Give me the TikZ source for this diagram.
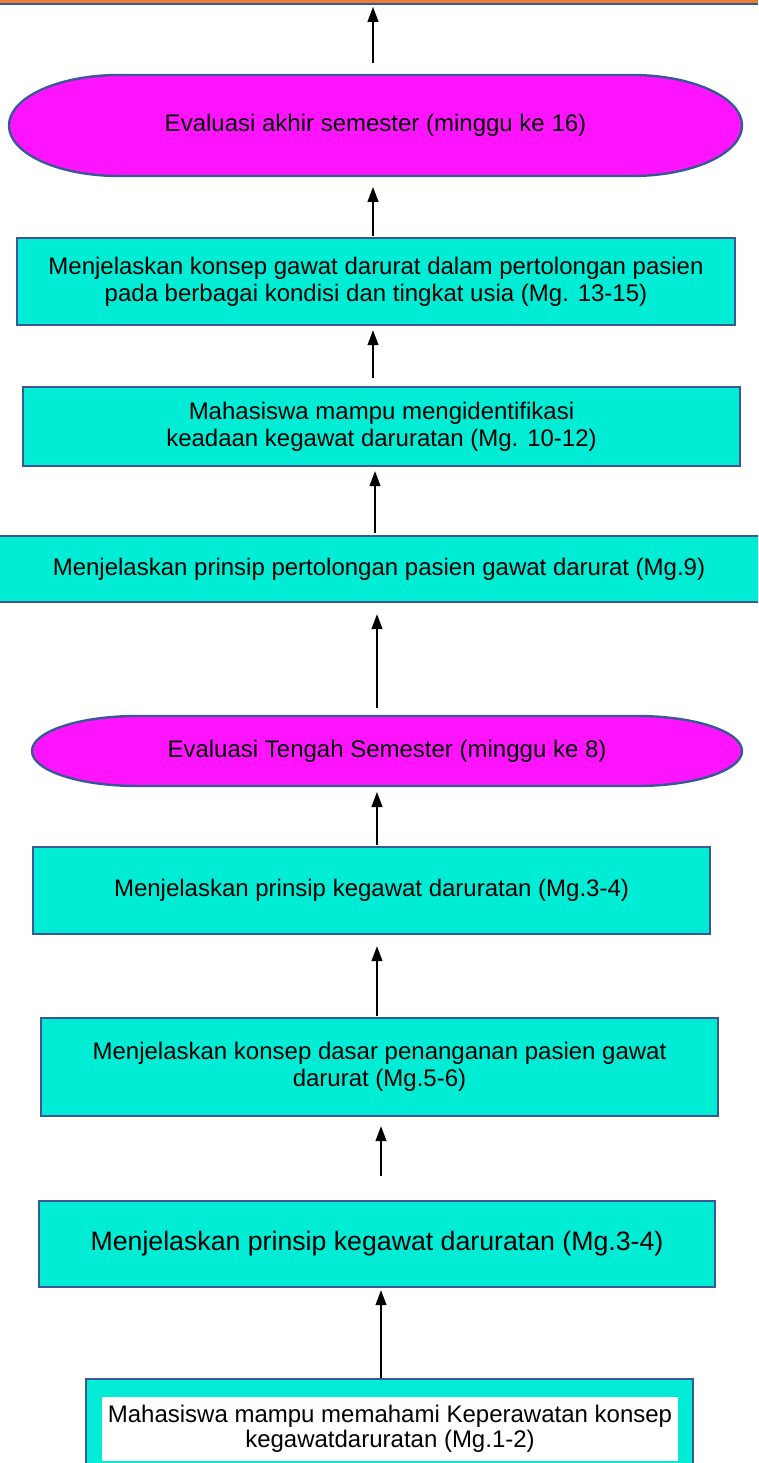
\documentclass[tikz,border=0pt]{standalone}
\usepackage{fontspec}
\setmainfont{Liberation Sans}
\usetikzlibrary{positioning, calc}
\usetikzlibrary{shapes.misc, arrows.meta, backgrounds}

\definecolor{boxfill}{RGB}{0,236,212}
\definecolor{boxline}{RGB}{58,88,148}
\definecolor{evalfill}{RGB}{255,20,255}
\definecolor{topband}{RGB}{237,125,49}

% outline with elliptic ends round a node: {node}{x radius}{y radius}
\newcommand{\pillpath}[3]{([xshift=#2]#1.north west) -- ([xshift=-#2]#1.north east)
    arc[start angle=90, end angle=-90, x radius=#2, y radius=#3]
    -- ([xshift=#2]#1.south west)
    arc[start angle=270, end angle=90, x radius=#2, y radius=#3] -- cycle}

\tikzset{
  stage/.style={draw=boxline, line width=2.4pt, fill=boxfill, inner sep=0pt,
    align=center, font=\fontsize{24}{27}\selectfont},
  evalstage/.style={inner sep=0pt, outer sep=0pt, align=center,
    font=\fontsize{24}{27}\selectfont},
  pill/.style={draw=boxline, line width=2.4pt, fill=evalfill},
  flow/.style={-{Triangle[length=15pt,width=11pt]}, line width=1.2pt}
}

\begin{document}
\begin{tikzpicture}[x=1pt,y=-1pt]
    \clip (0,0) rectangle (758,1463);
    % band at the top
    \fill[topband] (0,-20) rectangle (758,3.5);
    \draw[boxline, line width=2pt] (0,4.5) -- (758,4.5);
    \coordinate (goal) at (373,7);

    \node[evalstage, minimum width=733pt, minimum height=101pt] (ell1) at (375.5,125.5)
        {Evaluasi akhir semester (minggu ke 16)};
    \node[stage, minimum width=718pt, minimum height=87pt] (b1) at (376,281.5)
        {Menjelaskan konsep gawat darurat dalam pertolongan pasien\\pada berbagai kondisi dan tingkat usia (Mg. 13-15)};
    \node[stage, minimum width=717pt, minimum height=79pt] (b2) at (381.5,426.5)
        {Mahasiswa mampu mengidentifikasi\\keadaan kegawat daruratan (Mg. 10-12)};
    \node[stage, minimum width=790pt, minimum height=66pt] (b3) at (379,569)
        {Menjelaskan prinsip pertolongan pasien gawat darurat (Mg.9)};
    \node[evalstage, minimum width=710pt, minimum height=70pt] (ell2) at (387,751)
        {Evaluasi Tengah Semester (minggu ke 8)};
    \node[stage, minimum width=677pt, minimum height=87pt] (b4) at (371.5,890.5)
        {Menjelaskan prinsip kegawat daruratan (Mg.3-4)};
    \node[stage, minimum width=677pt, minimum height=98pt] (b5) at (379.5,1067)
        {Menjelaskan konsep dasar penanganan pasien gawat\\darurat (Mg.5-6)};
    \node[stage, minimum width=676pt, minimum height=86pt, font=\fontsize{26.7}{30}\selectfont] (b6) at (377,1244)
        {Menjelaskan prinsip kegawat daruratan (Mg.3-4)};
    \node[stage, minimum width=607pt, minimum height=100pt] (b7) at (389.5,1429) {};
    \node[fill=white, inner sep=0pt, minimum width=576pt, minimum height=64pt, align=center,
        font=\fontsize{24}{25}\selectfont] (b7in) at (390,1429)
        {Mahasiswa mampu memahami Keperawatan konsep\\kegawatdaruratan (Mg.1-2)};

    \begin{scope}[on background layer]
        \draw[pill] \pillpath{ell1}{110pt}{50.5pt};
        \draw[pill] \pillpath{ell2}{105pt}{35pt};
    \end{scope}

    % arrows
    \draw[flow, shorten <=12pt] (ell1.north -| goal) -- (goal);
    \draw[flow, shorten <=1pt, shorten >=11pt] (373,0 |- b1.north) -- (373,0 |- ell1.south);
    \draw[flow, shorten <=8pt, shorten >=4pt] (373,0 |- b2.north) -- (373,0 |- b1.south);
    \draw[flow, shorten <=2pt, shorten >=4pt] (375,0 |- b3.north) -- (375,0 |- b2.south);
    \draw[flow, shorten <=8pt, shorten >=11pt] (377,0 |- ell2.north) -- (377,0 |- b3.south);
    \draw[flow, shorten <=1pt, shorten >=6pt] (377,0 |- b4.north) -- (377,0 |- ell2.south);
    \draw[flow, shorten <=1pt, shorten >=11pt] (377,0 |- b5.north) -- (377,0 |- b4.south);
    \draw[flow, shorten <=24pt, shorten >=9pt] (381,0 |- b6.north) -- (381,0 |- b5.south);
    \draw[flow, shorten >=2pt] (381,0 |- b7.north) -- (381,0 |- b6.south);
\end{tikzpicture}
\end{document}
